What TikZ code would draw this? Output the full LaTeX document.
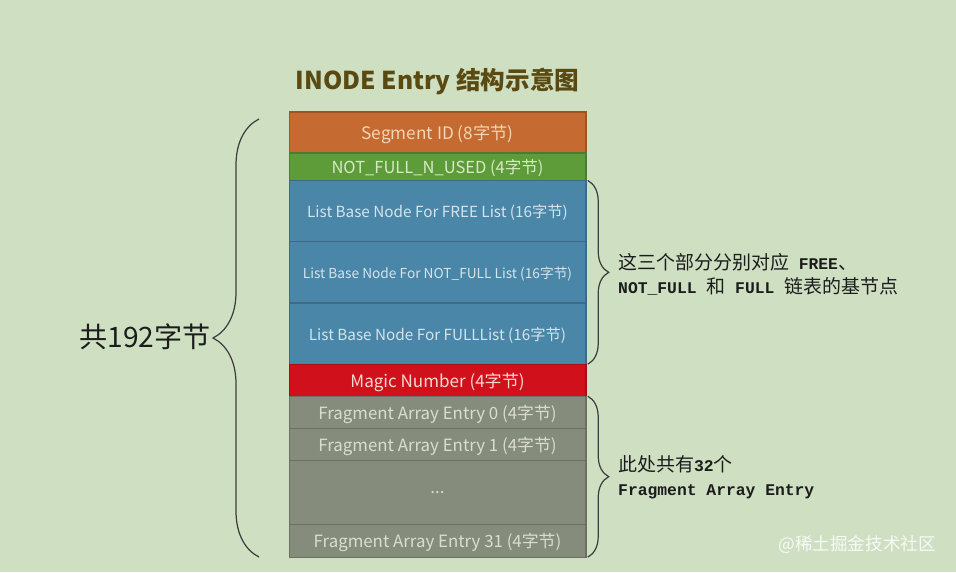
\documentclass[tikz,border=0pt]{standalone}
\usepackage{fontspec}
\setmainfont{Carlito}
\newfontfamily\cjk{Noto Sans CJK SC}
\newfontfamily\mono{Liberation Mono}
\usepackage{tikz}
\usetikzlibrary{positioning}
\usetikzlibrary{decorations.pathreplacing}
\definecolor{bg}{HTML}{CEDFC2}
\definecolor{segc}{HTML}{C56A30}
\definecolor{segt}{HTML}{F2D6B5}
\definecolor{usedc}{HTML}{5E9C3A}
\definecolor{usedt}{HTML}{D5EAC5}
\definecolor{listc}{HTML}{4A86A8}
\definecolor{listt}{HTML}{D5E4EC}
\definecolor{magicc}{HTML}{D0101A}
\definecolor{magict}{HTML}{F8D9D2}
\definecolor{fragc}{HTML}{868C7C}
\definecolor{fragt}{HTML}{D9DDD0}
\definecolor{titlec}{HTML}{5A4A12}
\definecolor{inkc}{HTML}{1C1C1C}
\newcommand{\zh}[1]{{\cjk\fontsize{10.8}{13.6}\selectfont #1}}
\newcommand{\mn}[1]{{\mono\bfseries\fontsize{9.3}{13.6}\selectfont #1}}
\tikzset{%
  field/.style = {rectangle,draw=#1!80!black,fill=#1,line width=0.6pt,
        minimum width=5.94cm,inner sep=0pt,outer sep=0pt,text depth=0pt},
  fs/.style = {font=\cjk\fontsize{#1}{#1}\selectfont},
  brace/.style = {decorate,draw=inkc!85,line width=0.7pt,
        decoration={brace,amplitude=#1}},
  note/.style = {align=left,anchor=west,text=inkc,
        font=\fontsize{10}{13.6}\selectfont}
}
\begin{document}
\begin{tikzpicture}[x=0.02cm,y=-0.02cm,node distance=0pt]
    \fill[bg] (0,0) rectangle (956,572);
    \node[field=segc,text=segt,fs=9.8,minimum height=0.82cm] (seg) at (437.5,132.5) {Segment ID (8字节)};
    \node[field=usedc,text=usedt,fs=9.4,minimum height=0.55cm] (used) [below=of seg] {NOT\_FULL\_N\_USED (4字节)};
    \node[field=listc,text=listt,fs=8.7,minimum height=1.225cm] (free) [below=of used] {List Base Node For FREE List (16字节)};
    \node[field=listc,text=listt,fs=7.8,minimum height=1.225cm] (notfull) [below=of free] {List Base Node For NOT\_FULL List (16字节)};
    \node[field=listc,text=listt,fs=8.7,minimum height=1.225cm] (full) [below=of notfull] {List Base Node For FULLList (16字节)};
    \node[field=magicc,text=magict,fs=9.7,minimum height=0.64cm] (magic) [below=of full] {Magic Number (4字节)};
    \node[field=fragc,text=fragt,fs=9.6,minimum height=0.64cm] (frag0) [below=of magic] {Fragment Array Entry 0 (4字节)};
    \node[field=fragc,text=fragt,fs=9.6,minimum height=0.64cm] (frag1) [below=of frag0] {Fragment Array Entry 1 (4字节)};
    \node[field=fragc,text=fragt,fs=9.6,minimum height=1.28cm] (dots) [below=of frag1] {...};
    \node[field=fragc,text=fragt,fs=9.6,minimum height=0.66cm] (frag31) [below=of dots] {Fragment Array Entry 31 (4字节)};

    \node[text=titlec,font=\cjk\bfseries\fontsize{14}{16}\selectfont] (title) [above=0.22cm of seg] {INODE Entry 结构示意图};

    % braces
    \coordinate (ltop) at (259,119);
    \coordinate (lbot) at (259,557);
    \draw[brace=0.92cm] (lbot) -- (ltop);
    \draw[brace=0.42cm] ([xshift=1pt]free.north east) -- ([xshift=1pt]full.south east);
    \draw[brace=0.42cm] ([xshift=1pt]frag0.north east) -- ([xshift=1pt]frag31.south east);

    \node[anchor=east,text=inkc,font=\cjk\fontsize{16}{18}\selectfont] (total) at (217,337) {共192字节};
    \node[note] (listnote) at (612,274) {\zh{这三个部分分别对应}\mn{ FREE}\zh{、}\\\mn{NOT\_FULL }\zh{和}\mn{ FULL }\zh{链表的基节点}};
    \node[note] (fragnote) at (612,477) {\zh{此处共有}\mn{32}\zh{个}\\\mn{Fragment Array Entry}};

    \node[anchor=east,text=white!85!bg,font=\cjk\fontsize{10}{12}\selectfont] (mark) at (942,545) {@稀土掘金技术社区};
\end{tikzpicture}
\end{document}
